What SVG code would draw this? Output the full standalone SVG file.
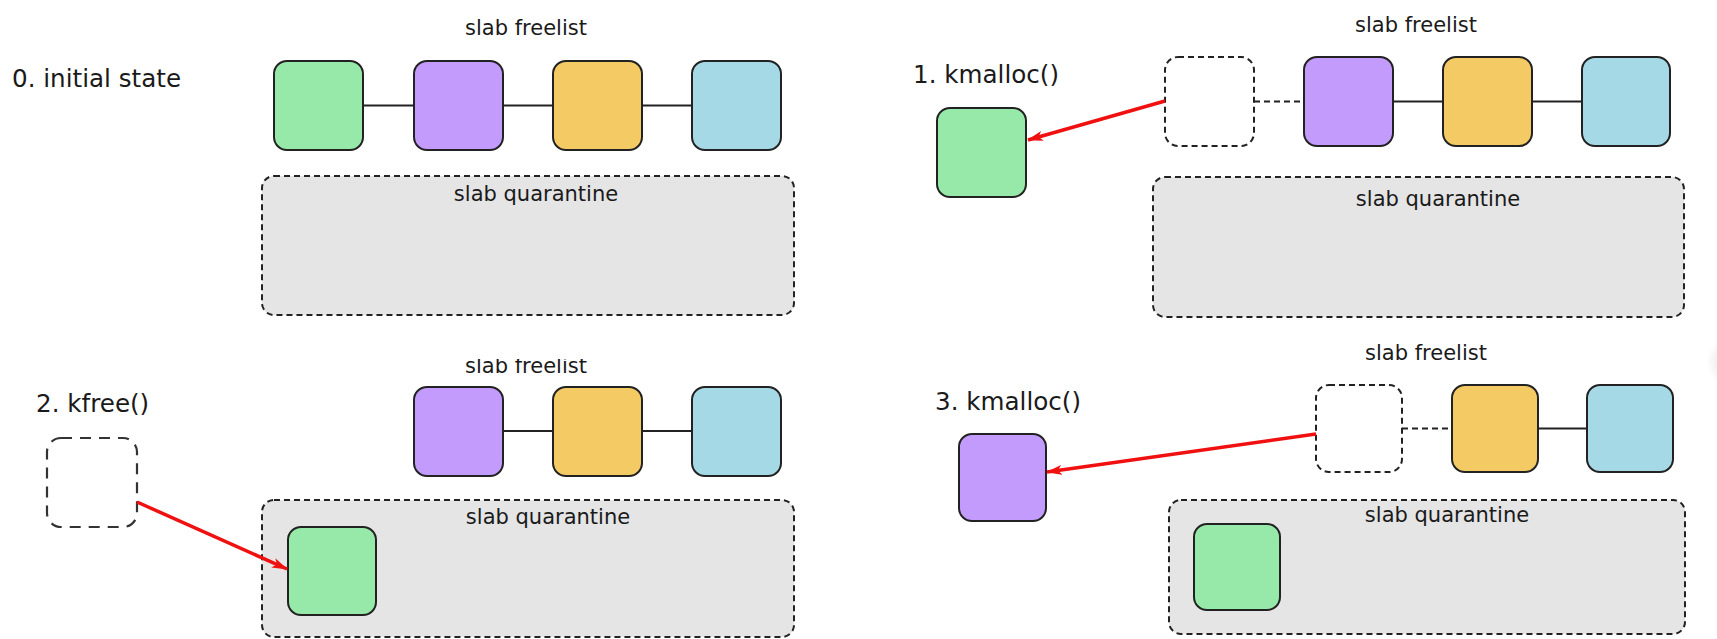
<svg xmlns="http://www.w3.org/2000/svg" width="1717" height="639" viewBox="0 0 1717 639">
  <style>
    text { font-family: "DejaVu Sans", "Liberation Sans", sans-serif; fill: #1a1a1a; }
    .step { font-size: 24.6px; }
    .cap { font-size: 21px; text-anchor: middle; }
    .obj { stroke: #222; stroke-width: 2; }
    .green { fill: #97e9a9; }
    .purple { fill: #c29bfd; }
    .orange { fill: #f4ca64; }
    .blue { fill: #a6d9e6; }
    .quar { fill: #e5e5e5; stroke: #222; stroke-width: 2; stroke-dasharray: 6 4; }
    .hole { fill: #fff; stroke: #222; stroke-width: 2; stroke-dasharray: 6 4; }
    .hole-long { fill: #fff; stroke: #333; stroke-width: 2.2; stroke-dasharray: 11 8; }
    .link { stroke: #222; stroke-width: 2; fill: none; }
    .link-dash { stroke: #222; stroke-width: 2; fill: none; stroke-dasharray: 6 4; }
    .move { stroke: #f01010; stroke-width: 3.5; fill: none; marker-end: url(#head); }
  </style>
  <defs>
    <marker id="head" viewBox="0 0 16 10" refX="15" refY="5" markerWidth="16" markerHeight="10" markerUnits="userSpaceOnUse" orient="auto">
      <path d="M0,0 L16,5 L0,10 L4,5 Z" fill="#f01010"/>
    </marker>
    <clipPath id="cutTop">
      <rect x="0" y="359" width="1717" height="40"/>
    </clipPath>
    <radialGradient id="edgeShade" cx="0.5" cy="0.5" r="0.5">
      <stop offset="0" stop-color="#d8d8d8"/>
      <stop offset="1" stop-color="#d8d8d8" stop-opacity="0"/>
    </radialGradient>
  </defs>

  <rect width="1717" height="639" fill="#fff"/>
  <ellipse cx="1736" cy="362" rx="30" ry="26" fill="url(#edgeShade)"/>

  <!-- step 0: initial state -->
  <g id="step0">
    <text class="step" x="12" y="87">0. initial state</text>
    <text class="cap" x="526" y="35">slab freelist</text>
    <g id="s0-quarantine">
      <rect class="quar" x="262" y="176" width="532" height="139" rx="12"/>
      <text class="cap" x="536" y="201">slab quarantine</text>
    </g>
    <rect id="s0-obj-a" class="obj green" x="274" y="61" width="89" height="89" rx="13"/>
    <rect id="s0-obj-b" class="obj purple" x="414" y="61" width="89" height="89" rx="13"/>
    <rect id="s0-obj-c" class="obj orange" x="553" y="61" width="89" height="89" rx="13"/>
    <rect id="s0-obj-d" class="obj blue" x="692" y="61" width="89" height="89" rx="13"/>
  </g>

  <!-- step 1: kmalloc() -->
  <g id="step1">
    <text class="step" x="913" y="83">1. kmalloc()</text>
    <text class="cap" x="1416" y="32">slab freelist</text>
    <g id="s1-quarantine">
      <rect class="quar" x="1153" y="177" width="531" height="140" rx="12"/>
      <text class="cap" x="1438" y="206">slab quarantine</text>
    </g>
    <rect id="s1-hole" class="hole" x="1165" y="57" width="89" height="89" rx="13"/>
    <rect id="s1-obj-b" class="obj purple" x="1304" y="57" width="89" height="89" rx="13"/>
    <rect id="s1-obj-c" class="obj orange" x="1443" y="57" width="89" height="89" rx="13"/>
    <rect id="s1-obj-d" class="obj blue" x="1582" y="57" width="88" height="89" rx="13"/>
    <rect id="s1-obj-a" class="obj green" x="937" y="108" width="89" height="89" rx="13"/>
  </g>

  <!-- step 2: kfree() -->
  <g id="step2">
    <text class="step" x="36" y="412">2. kfree()</text>
    <text class="cap" x="526" y="373" clip-path="url(#cutTop)">slab freelist</text>
    <g id="s2-quarantine">
      <rect class="quar" x="262" y="500" width="532" height="137" rx="12"/>
      <text class="cap" x="548" y="524">slab quarantine</text>
    </g>
    <rect id="s2-hole" class="hole-long" x="47" y="438" width="90" height="89" rx="14"/>
    <rect id="s2-obj-b" class="obj purple" x="414" y="387" width="89" height="89" rx="13"/>
    <rect id="s2-obj-c" class="obj orange" x="553" y="387" width="89" height="89" rx="13"/>
    <rect id="s2-obj-d" class="obj blue" x="692" y="387" width="89" height="89" rx="13"/>
    <rect id="s2-obj-a" class="obj green" x="288" y="527" width="88" height="88" rx="13"/>
  </g>

  <!-- step 3: kmalloc() -->
  <g id="step3">
    <text class="step" x="935" y="410">3. kmalloc()</text>
    <text class="cap" x="1426" y="360">slab freelist</text>
    <g id="s3-quarantine">
      <rect class="quar" x="1169" y="500" width="516" height="134" rx="12"/>
      <text class="cap" x="1447" y="522">slab quarantine</text>
    </g>
    <rect id="s3-hole" class="hole" x="1316" y="385" width="86" height="87" rx="13"/>
    <rect id="s3-obj-c" class="obj orange" x="1452" y="385" width="86" height="87" rx="13"/>
    <rect id="s3-obj-d" class="obj blue" x="1587" y="385" width="86" height="87" rx="13"/>
    <rect id="s3-obj-b" class="obj purple" x="959" y="434" width="87" height="87" rx="13"/>
    <rect id="s3-obj-a" class="obj green" x="1194" y="524" width="86" height="86" rx="13"/>
  </g>

  <!-- freelist links and object moves -->
  <g id="connectors">
    <line class="link" x1="363" y1="105.5" x2="414" y2="105.5"/>
    <line class="link" x1="503" y1="105.5" x2="553" y2="105.5"/>
    <line class="link" x1="642" y1="105.5" x2="692" y2="105.5"/>

    <line class="link-dash" x1="1254" y1="101.5" x2="1304" y2="101.5"/>
    <line class="link" x1="1393" y1="101.5" x2="1443" y2="101.5"/>
    <line class="link" x1="1532" y1="101.5" x2="1582" y2="101.5"/>
    <line class="move" x1="1165" y1="101" x2="1028" y2="140"/>

    <line class="link" x1="503" y1="431" x2="553" y2="431"/>
    <line class="link" x1="642" y1="431" x2="692" y2="431"/>
    <line class="move" x1="137" y1="502" x2="287" y2="569"/>

    <line class="link-dash" x1="1402" y1="428.5" x2="1452" y2="428.5"/>
    <line class="link" x1="1538" y1="428.5" x2="1587" y2="428.5"/>
    <line class="move" x1="1316" y1="434" x2="1047" y2="472"/>
  </g>
</svg>
